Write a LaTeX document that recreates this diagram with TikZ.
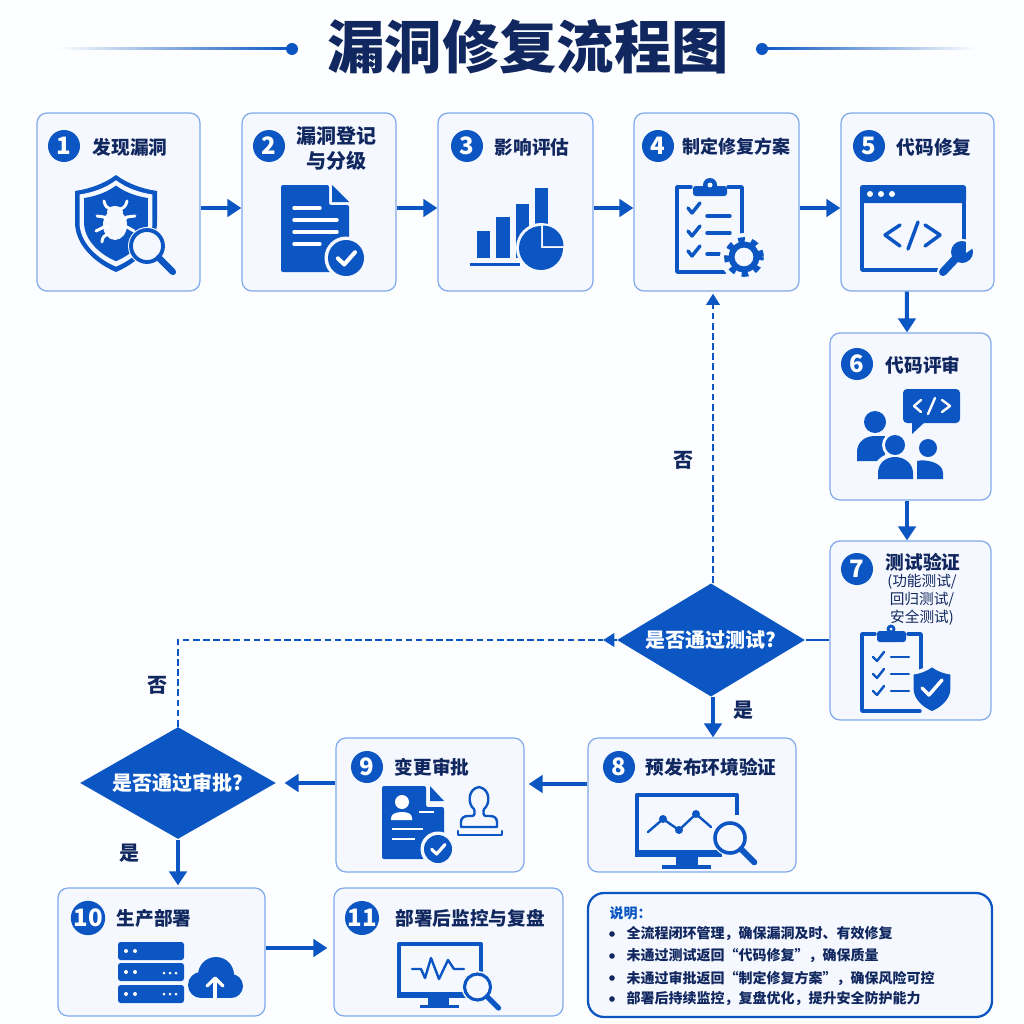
\documentclass[tikz,border=0pt]{standalone}
\usepackage{fontspec}
\setmainfont{Noto Sans CJK SC}
\usetikzlibrary{shapes.geometric,arrows.meta}

\definecolor{flowblue}{HTML}{0B56C2}
\definecolor{boxfill}{HTML}{F5F8FE}
\definecolor{boxline}{HTML}{7FAAEB}
\definecolor{navytext}{HTML}{10275F}
\definecolor{pagebg}{HTML}{FDFEFF}

\tikzset{every picture/.style={line width=0.75pt}}
\tikzset{
  stepbox/.style={draw=boxline,fill=boxfill,line width=0.9pt,rounded corners=7.5pt,inner sep=0pt},
  notebox/.style={draw=flowblue,fill=boxfill,line width=1.7pt,rounded corners=12pt,inner sep=0pt},
  stepnum/.style={circle,fill=flowblue,text=white,font=\fontsize{18pt}{18pt}\selectfont\bfseries,minimum size=24pt,inner sep=0pt},
  steptitle/.style={text=navytext,font=\fontsize{14pt}{16pt}\selectfont\bfseries,inner sep=0.75pt,align=center},
  stepnote/.style={text=navytext,font=\fontsize{11pt}{13.5pt}\selectfont,inner sep=0.75pt,align=center},
  decision/.style={diamond,aspect=1.66,fill=flowblue,text=white,font=\fontsize{15pt}{17pt}\selectfont\bfseries,inner sep=0pt,minimum width=141pt,minimum height=85pt},
  branchlabel/.style={text=navytext,font=\fontsize{15pt}{17pt}\selectfont\bfseries,inner sep=0.75pt},
  legendtext/.style={anchor=west,text=navytext,font=\fontsize{10.5pt}{12pt}\selectfont\bfseries,inner sep=0.75pt},
  flowline/.style={draw=flowblue,line width=3pt,-{Triangle[length=10.5pt,width=13pt]}},
  plainline/.style={draw=flowblue,line width=2.2pt},
  backline/.style={draw=flowblue,line width=2.2pt,dash pattern=on 5pt off 2.6pt},
  backhead/.style={draw=flowblue,line width=2.2pt,-{Triangle[length=8.5pt,width=10pt]}},
  iconline/.style={draw=flowblue,line width=2.6pt,line cap=round,line join=round},
  iconthin/.style={draw=flowblue,line width=1.8pt,line cap=round,line join=round},
  iconwhite/.style={draw=white,line width=2.2pt,line cap=round,line join=round},
}

\newcommand{\shieldshape}{(0,-48) .. controls (12,-39) and (27,-34) .. (41,-32) -- (41,-1) .. controls (41,22) and (21,40) .. (0,49) .. controls (-21,40) and (-41,22) .. (-41,-1) -- (-41,-32) .. controls (-27,-34) and (-12,-39) .. (0,-48) -- cycle}
\newcommand{\magglass}[3]{%
  \fill[boxfill] (#1,#2) circle (#3+3);
  \draw[flowblue,line width=#3*0.18pt] (#1,#2) circle (#3);
  \draw[flowblue,line width=#3*0.3pt,line cap=round] (#1+#3*0.74,#2+#3*0.74) -- (#1+#3*1.62,#2+#3*1.62);
}
\newcommand{\checkbadge}[3]{%
  \fill[boxfill] (#1,#2) circle (#3+3.5);
  \fill[flowblue] (#1,#2) circle (#3);
  \draw[white,line width=#3*0.17pt,line cap=round,line join=round] (#1-#3*0.45,#2+#3*0.02) -- (#1-#3*0.1,#2+#3*0.36) -- (#1+#3*0.5,#2-#3*0.32);
}

\begin{document}
\begin{tikzpicture}[x=0.75pt,y=0.75pt,yscale=-1,xscale=1]
\useasboundingbox (0,0) rectangle (1024,1024);
\fill[pagebg] (0,0) rectangle (1024,1024);

%Title rules
\shade[left color=white,right color=flowblue] (55,48) rectangle (292,50);
\fill[flowblue] (292,49) circle (6);
\shade[left color=flowblue,right color=white] (762,48) rectangle (978,50);
\fill[flowblue] (762,49) circle (6);
% Text Node
\draw (528,47) node [text=navytext,font=\fontsize{43pt}{45pt}\selectfont\bfseries,inner sep=0.75pt] (maintitle) {漏洞修复流程图};

%Rounded Rect
\draw (118.5,202) node [stepbox,minimum width=122.25pt,minimum height=133.5pt] (box1) {};
\draw (319,202) node [stepbox,minimum width=115.5pt,minimum height=133.5pt] (box2) {};
\draw (515.5,202) node [stepbox,minimum width=116.25pt,minimum height=133.5pt] (box3) {};
\draw (716.5,202) node [stepbox,minimum width=123.75pt,minimum height=133.5pt] (box4) {};
\draw (917.5,202) node [stepbox,minimum width=114.75pt,minimum height=133.5pt] (box5) {};
\draw (910.5,416.5) node [stepbox,minimum width=120.75pt,minimum height=125.25pt] (box6) {};
\draw (910.5,630.5) node [stepbox,minimum width=120.75pt,minimum height=134.25pt] (box7) {};
\draw (692,805) node [stepbox,minimum width=156pt,minimum height=100.5pt] (box8) {};
\draw (430,805) node [stepbox,minimum width=141pt,minimum height=100.5pt] (box9) {};
\draw (161.5,952) node [stepbox,minimum width=155.25pt,minimum height=96pt] (box10) {};
\draw (448.5,952) node [stepbox,minimum width=171.75pt,minimum height=96pt] (box11) {};
\draw (790,955) node [notebox,minimum width=303pt,minimum height=93pt] (legend) {};

% Decisions
\draw (711,640) node [decision] (testq) {是否通过测试?};
\draw (178,783) node [decision,minimum width=147pt,minimum height=84pt] (approveq) {是否通过审批?};

%Straight Lines
\coordinate (backcorner) at (approveq.north |- testq.west);
\coordinate (backtip) at (603,640);
\draw [flowline] ([yshift=4.5pt]box1.east) -- ([yshift=4.5pt]box2.west);
\draw [flowline] ([yshift=4.5pt]box2.east) -- ([yshift=4.5pt]box3.west);
\draw [flowline] ([yshift=4.5pt]box3.east) -- ([yshift=4.5pt]box4.west);
\draw [flowline] ([yshift=4.5pt]box4.east) -- ([yshift=4.5pt]box5.west);
\draw [flowline] ([xshift=-8pt]box5.south) -- ([xshift=-2.6pt]box6.north);
\draw [flowline] ([xshift=-2.6pt]box6.south) -- ([xshift=-2.6pt]box7.north);
\draw [plainline] (box7.west |- testq.east) -- (testq.east);
\draw [backline] ([xshift=1.5pt]testq.north) -- ([xshift=1.5pt]testq.north |- 0,305);
\draw [backhead] ([xshift=1.5pt]testq.north |- 0,306) -- ([xshift=1.5pt,yshift=1.5pt]testq.north |- box4.south);
\draw [backline] (approveq.north) -- (backcorner) -- (backtip);
\draw [backhead] (testq.west) -- (backtip);
\draw [flowline] ([xshift=1.5pt]testq.south) -- ([xshift=1.5pt]testq.south |- box8.north);
\draw [flowline,shorten >=3pt] ([yshift=-15.75pt]box8.west) -- ([yshift=-15.75pt]box9.east);
\draw [flowline,shorten >=6pt] ([yshift=-16.5pt]box9.west) -- (approveq.east);
\draw [flowline,shorten >=1.5pt] (approveq.south) -- (approveq.south |- box10.north);
\draw [flowline,line width=2.6pt,shorten >=4.5pt] ([yshift=-3pt]box10.east) -- ([yshift=-3pt]box11.west);

%Number circles
\draw (64,146) node [stepnum] (num1) {1};
\draw (269,146) node [stepnum] (num2) {2};
\draw (467,146) node [stepnum] (num3) {3};
\draw (658,146) node [stepnum] (num4) {4};
\draw (869,146) node [stepnum] (num5) {5};
\draw (857,364) node [stepnum] (num6) {6};
\draw (857,569) node [stepnum] (num7) {7};
\draw (619,767) node [stepnum] (num8) {8};
\draw (367,767) node [stepnum] (num9) {9};
\draw (88,918) node [stepnum] (num10) {10};
\draw (362,918) node [stepnum] (num11) {11};

% Text Node
\draw (130,147) node [steptitle] (title1) {发现漏洞};
\draw (336,148.5) node [steptitle,font=\fontsize{15pt}{18.75pt}\selectfont\bfseries] (title2) {漏洞登记\\与分级};
\draw (532,147) node [steptitle] (title3) {影响评估};
\draw (736,147) node [steptitle,font=\fontsize{13.5pt}{16pt}\selectfont\bfseries] (title4) {制定修复方案};
\draw (934,147) node [steptitle] (title5) {代码修复};
\draw (923,365) node [steptitle] (title6) {代码评审};
\draw (923,562) node [steptitle] (title7) {测试验证};
\draw (922,600) node [stepnote] (note7) {(功能测试/\\回归测试/\\安全测试)};
\draw (711,767) node [steptitle] (title8) {预发布环境验证};
\draw (432,767) node [steptitle] (title9) {变更审批};
\draw (154,918) node [steptitle] (title10) {生产部署};
\draw (470,918) node [steptitle] (title11) {部署后监控与复盘};
\draw (683,460) node [branchlabel] (no1) {否};
\draw (157,685) node [branchlabel] (no2) {否};
\draw (743,710) node [branchlabel] (yes1) {是};
\draw (129,853) node [branchlabel] (yes2) {是};

% Legend text
\draw (608,913) node [legendtext,text=flowblue] (legendhead) {说明：};
\draw (625,934) node [legendtext] (legend1) {全流程闭环管理，确保漏洞及时、有效修复};
\draw (625,956) node [legendtext] (legend2) {未通过测试返回“代码修复”，确保质量};
\draw (625,978) node [legendtext] (legend3) {未通过审批返回“制定修复方案”，确保风险可控};
\draw (625,999) node [legendtext] (legend4) {部署后持续监控，复盘优化，提升安全防护能力};
\fill[navytext] (612,934) circle (2.8);
\fill[navytext] (612,956) circle (2.8);
\fill[navytext] (612,978) circle (2.8);
\fill[navytext] (612,999) circle (2.8);

%Icon 1: shield and bug
\begin{scope}[shift={(116,223)}]
\fill[flowblue] \shieldshape;
\begin{scope}[scale=0.89] \fill[boxfill] \shieldshape; \end{scope}
\begin{scope}[scale=0.78] \fill[flowblue] \shieldshape; \end{scope}
\end{scope}
\fill[boxfill] (115,225) ellipse (12 and 15);
\fill[boxfill] (115,212) ellipse (8 and 6);
\draw[iconwhite] (104,201) .. controls (105,206) and (107,208) .. (110,209);
\draw[iconwhite] (127,201) .. controls (126,206) and (124,208) .. (120,209);
\draw[iconwhite] (97,216) -- (104,217) -- (108,221);
\draw[iconwhite] (135,216) -- (127,217) -- (123,221);
\draw[iconwhite] (96,231) -- (104,227) -- (108,227);
\draw[iconwhite] (134,231) -- (127,227) -- (123,227);
\draw[iconwhite] (102,242) .. controls (102,237) and (105,235) .. (109,234);
\magglass{147}{246}{16}

%Icon 2: document
\fill[flowblue,rounded corners=1.5pt] (281,185) -- (329,185) -- (329,205) -- (349,205) -- (349,272) -- (281,272) -- cycle;
\fill[flowblue] (332,185) -- (349,202) -- (332,202) -- cycle;
\draw[iconwhite,line width=2.6pt] (294,208) -- (320,208);
\draw[iconwhite,line width=2.6pt] (294,220) -- (337,220);
\draw[iconwhite,line width=2.6pt] (294,232) -- (337,232);
\draw[iconwhite,line width=2.6pt] (294,244) -- (320,244);
\checkbadge{346}{258}{18}

%Icon 3: bars and pie
\fill[flowblue] (477,231) rectangle (490,258);
\fill[flowblue] (496,217) rectangle (510,258);
\fill[flowblue] (516,204) rectangle (529,258);
\fill[flowblue] (535,188) rectangle (548,258);
\fill[flowblue] (470,263) rectangle (520,266);
\fill[boxfill] (541,248) circle (25);
\fill[flowblue] (541,248) -- (541,226) arc (-90:-360:22) -- cycle;
\fill[flowblue] (543,246) -- (563.5,246) arc (0:-90:20.5) -- cycle;

%Icon 4: clipboard and gear
\draw[iconline] (691,187) -- (677,187) -- (677,272) -- (725,272);
\draw[iconline] (728,187) -- (742,187) -- (742,240);
\fill[flowblue,rounded corners=2pt] (693,186) rectangle (727,196);
\fill[flowblue] (710,185) circle (7);
\fill[boxfill] (710,185) circle (2.5);
\draw[iconline] (688,231) -- (692,236) -- (700,226);
\draw[iconline] (688,208) -- (692,213) -- (700,203);
\draw[iconline] (688,251) -- (692,256) -- (700,246);
\draw[iconline] (707,216) -- (730,216);
\draw[iconline] (707,233) -- (730,233);
\draw[iconline] (707,254) -- (722,254);
\fill[boxfill] (744,257) circle (24);
\draw[flowblue,line width=5pt,dash pattern=on 4.7pt off 4.7pt,dash phase=2.35pt] (744,257) circle (16.5);
\draw[flowblue,line width=4.5pt] (744,257) circle (12.5);

%Icon 5: code window and wrench
\draw[iconline,line cap=butt] (862,200) -- (862,270) -- (938,270);
\draw[iconline,line cap=butt] (964,200) -- (964,240);
\fill[flowblue,rounded corners=2pt] (860,185) rectangle (966,203);
\fill[white] (870,194) circle (3);
\fill[white] (881,194) circle (3);
\fill[white] (892,194) circle (3);
\draw[iconline] (900,225) -- (885,235) -- (900,246);
\draw[iconline] (918,222) -- (908,249);
\draw[iconline] (925,225) -- (940,235) -- (925,246);
\draw[boxfill,line width=9pt,line cap=round] (943,272) -- (962,254);
\fill[boxfill] (962,254) circle (15);
\draw[flowblue,line width=6pt,line cap=round] (943,272) -- (958,256);
\fill[flowblue] (962,252) circle (11);
\fill[boxfill] (966,241) -- (976,246) -- (966,253) -- cycle;

%Icon 6: people and code bubble
\fill[flowblue,rounded corners=3pt] (903,389) rectangle (960,423);
\fill[flowblue] (912,420) -- (912,434) -- (926,421) -- cycle;
\draw[iconwhite,line width=1.8pt] (921,400) -- (914,406) -- (921,412);
\draw[iconwhite,line width=1.8pt] (935,398) -- (928,414);
\draw[iconwhite,line width=1.8pt] (942,400) -- (950,406) -- (942,412);
\fill[flowblue] (875,422) circle (11);
\fill[flowblue] (857,461) -- (857,452) .. controls (857,442) and (865,436) .. (875,436) -- (885,436) -- (885,461) -- cycle;
\fill[boxfill] (895,445) circle (13);
\fill[boxfill] (873,482) -- (873,473) .. controls (873,461) and (883,453) .. (895,453) .. controls (907,453) and (916,461) .. (916,473) -- (916,482) -- cycle;
\fill[flowblue] (895,445) circle (10);
\fill[flowblue] (878,479) -- (878,473) .. controls (878,464) and (885,457) .. (895,457) .. controls (905,457) and (913,464) .. (913,473) -- (913,479) -- cycle;
\fill[flowblue] (928,448) circle (9);
\fill[flowblue] (917,479) -- (917,461) .. controls (925,459) and (943,462) .. (943,473) -- (943,479) -- cycle;

%Icon 7: clipboard and shield
\draw[iconline] (875,634) -- (862,634) -- (862,711) -- (920,711);
\draw[iconline] (908,634) -- (921,634) -- (921,670);
\fill[flowblue,rounded corners=2pt] (877,631) rectangle (906,642);
\fill[flowblue] (891,629) circle (4.5);
\fill[boxfill] (891,629) circle (1.5);
\draw[iconthin] (873,657) -- (877,661) -- (884,652);
\draw[iconthin] (873,674) -- (877,678) -- (884,669);
\draw[iconthin] (873,691) -- (877,695) -- (884,686);
\draw[iconthin] (891,657) -- (909,657);
\draw[iconthin] (891,674) -- (909,674);
\draw[iconthin] (891,691) -- (909,691);
\begin{scope}[shift={(932,689)}]
\begin{scope}[scale=0.54] \fill[boxfill] \shieldshape; \end{scope}
\begin{scope}[scale=0.45] \fill[flowblue] \shieldshape; \end{scope}
\end{scope}
\draw[white,line width=2.6pt,line cap=round,line join=round] (922,688) -- (929,695) -- (942,680);

%Icon 8: monitor with trend
\draw[iconline,line width=3pt,line cap=butt] (737,815) -- (737,795) -- (637,795) -- (637,854) -- (715,854);
\fill[flowblue] (635,850) rectangle (722,857);
\fill[flowblue] (676,856) rectangle (698,866);
\fill[flowblue] (662,865) rectangle (711,869);
\draw[iconthin] (648,832) -- (663,819) -- (679,830) -- (696,814) -- (711,827);
\fill[flowblue] (663,819) circle (4);
\fill[flowblue] (679,830) circle (4);
\fill[flowblue] (696,814) circle (4);
\magglass{730}{838}{15}

%Icon 9: approval form and stamp
\fill[flowblue,rounded corners=1.5pt] (382,786) -- (426,786) -- (426,807) -- (444,807) -- (444,859) -- (382,859) -- cycle;
\fill[flowblue] (430,786) -- (444,801) -- (430,801) -- cycle;
\fill[white] (402,802) circle (7);
\fill[white] (391,820) -- (391,818) .. controls (391,814) and (396,812) .. (402,812) .. controls (408,812) and (412,814) .. (412,818) -- (412,820) -- cycle;
\draw[white,line width=1.5pt] (419,812) -- (434,812);
\draw[white,line width=1.5pt] (392,829) -- (423,829);
\draw[white,line width=1.5pt] (392,839) -- (415,839);
\checkbadge{438}{849}{14}
\draw[iconthin] (461,827) -- (461,822) .. controls (461,818) and (464,816) .. (468,816) -- (472,816) .. controls (475,816) and (475,812) .. (474,809) .. controls (468,805) and (467,789) .. (479,787) .. controls (491,789) and (490,805) .. (484,809) .. controls (483,812) and (483,816) .. (486,816) -- (490,816) .. controls (494,816) and (497,818) .. (497,822) -- (497,827) -- cycle;
\draw[iconthin] (458,831) -- (458,835) -- (502,835) -- (502,831);

%Icon 10: servers and cloud
\fill[flowblue,rounded corners=2pt] (118,942) rectangle (184,960);
\fill[flowblue,rounded corners=2pt] (118,963) rectangle (184,981);
\fill[flowblue,rounded corners=2pt] (118,985) rectangle (184,1003);
\fill[white] (126,951) circle (2);
\fill[white] (135,951) circle (2);
\fill[white] (126,972) circle (2);
\fill[white] (135,972) circle (2);
\fill[white] (126,994) circle (2);
\fill[white] (135,994) circle (2);
\fill[white] (164,973) circle (1.5);
\fill[white] (170,973) circle (1.5);
\fill[white] (176,973) circle (1.5);
\fill[white] (164,994) circle (1.5);
\fill[white] (170,994) circle (1.5);
\fill[white] (176,994) circle (1.5);
\fill[flowblue] (201,985) circle (13);
\fill[flowblue] (216,975) circle (18);
\fill[flowblue] (231,986) circle (12);
\fill[flowblue] (201,985) rectangle (231,998);
\draw[iconwhite,line width=2.4pt,line cap=butt] (215,998) -- (215,980);
\draw[iconwhite,line width=2.4pt] (207,986) -- (215,978) -- (223,986);

%Icon 11: monitor with pulse
\draw[iconline,line width=3pt,line cap=butt] (481,975) -- (481,944) -- (399,944) -- (399,995) -- (465,995);
\fill[flowblue] (397,992) rectangle (466,998);
\fill[flowblue] (428,997) rectangle (449,1005);
\fill[flowblue] (420,1005) rectangle (459,1008);
\draw[iconthin] (412,969) -- (421,969) -- (425,978) -- (431,958) -- (439,979) -- (448,960) -- (454,969) -- (464,969);
\magglass{477.5}{987}{13}

\end{tikzpicture}
\end{document}
